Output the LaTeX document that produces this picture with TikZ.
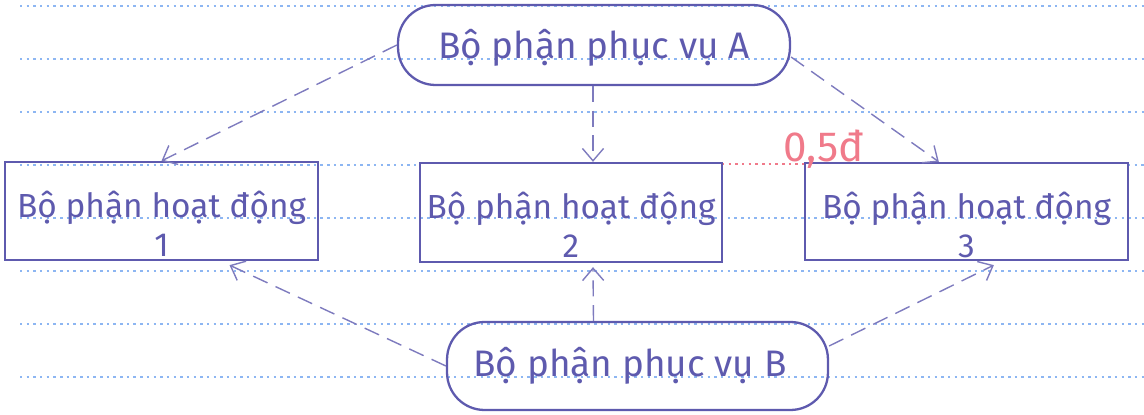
\documentclass[tikz,border=0pt]{standalone}
\usepackage{fontspec}
\setmainfont{Fira Sans}
\usetikzlibrary{arrows.meta,calc}
\definecolor{ink}{HTML}{5E5AAE}
\definecolor{paper}{HTML}{8DB6F2}
\definecolor{redink}{HTML}{F07A8A}
\tikzset{
  ruled/.style={paper, line width=1.4pt, dash pattern=on 1.4pt off 2.4pt},
  svc/.style={draw=ink, line width=1.3pt, rounded corners=0.75cm, inner sep=0pt},
  unit/.style={draw=ink, line width=1.3pt, inner sep=0pt},
  svctext/.style={text=ink, font=\fontsize{21}{26}\selectfont},
  unittext/.style={text=ink, font=\fontsize{19}{22}\selectfont, align=center},
  conn/.style={ink!80, line width=0.8pt, dash pattern=on 9pt off 5pt, -{Straight Barb[length=7pt,width=12pt]}},
}
\begin{document}
\begin{tikzpicture}[x=0.02cm,y=-0.02cm]
\useasboundingbox (0,0) rectangle (1144,415);
% ruled paper lines
\foreach \yy in {6,59,112,218,271,324,377}{
  \draw[ruled] (20,\yy) -- (1144,\yy);
}
\draw[ruled] (20,165) -- (420,165);
\draw[ruled, redink] (722,164) -- (805,164);
\draw[ruled] (1128,165) -- (1144,165);
% service units
\node[svc, minimum width=7.84cm, minimum height=1.6cm] (A) at (594,45) {};
\node[svctext] (At) at (594,48) {Bộ phận phục vụ A};
\node[svc, minimum width=7.62cm, minimum height=1.76cm] (B) at (637.5,366) {};
\node[svctext] (Bt) at (630,366) {Bộ phận phục vụ B};
% operating units
\node[unit, minimum width=6.26cm, minimum height=1.96cm] (b1) at (161.5,211) {};
\node[unittext] (t1) at (161.5,224) {Bộ phận hoạt động\\1};
\node[unit, minimum width=6.04cm, minimum height=1.98cm] (b2) at (571,212.5) {};
\node[unittext] (t2) at (571,225) {Bộ phận hoạt động\\2};
\node[unit, minimum width=6.46cm, minimum height=1.94cm] (b3) at (966.5,211.5) {};
\node[unittext] (t3) at (966.5,225) {Bộ phận hoạt động\\3};
% grade mark
\node[text=redink, font=\fontsize{24}{28}\selectfont] (mark) at (824,149) {0,5đ};
% connectors
\draw[conn] (A.west) -- (b1.north);
\draw[conn] (A.south -| 593,0) -- (593,0 |- b2.north);
\draw[conn] ($(A.east)+(0,12)$) -- ($(b3.north west)+(135,0)$);
\draw[conn] (B.west) -- ($(b1.south)+(68,4)$);
\draw[conn] ($(B.north)+(-44,0)$) -- ($(b2.south)+(22,4)$);
\draw[conn] ($(B.east)+(0,-20)$) -- ($(b3.south west)+(190,4)$);
\end{tikzpicture}
\end{document}
